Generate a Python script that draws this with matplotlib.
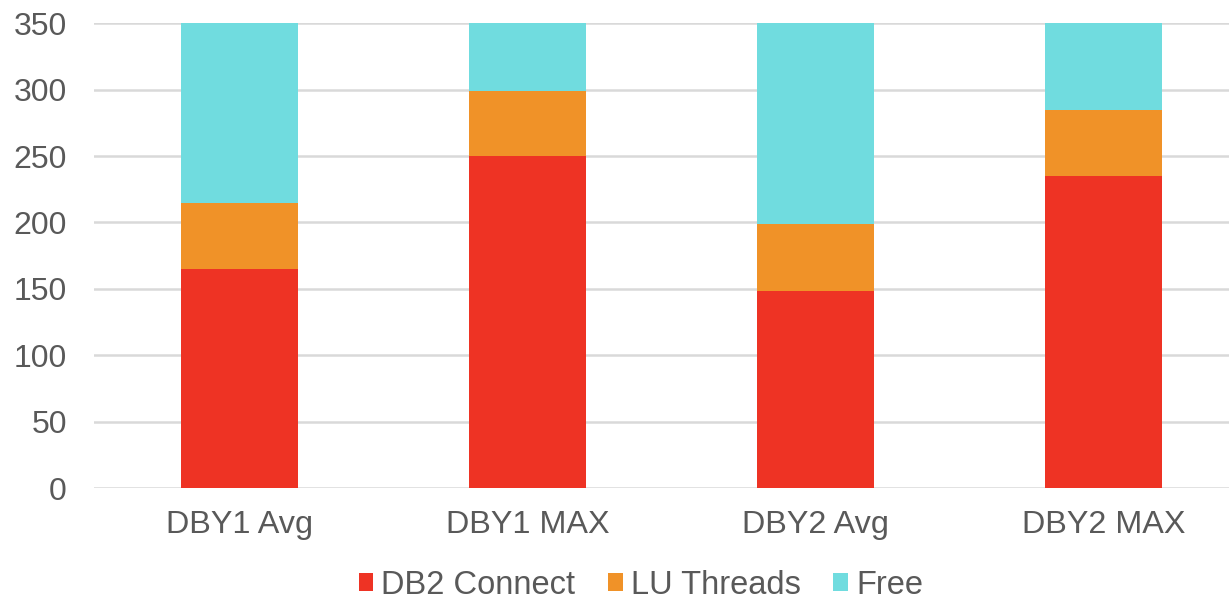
import numpy as np
import matplotlib.pyplot as plt

plt.rcParams['font.family'] = ['Liberation Sans', 'DejaVu Sans']

# Thread usage per system (stacked up to 350)
categories = ["DBY1 Avg", "DBY1 MAX", "DBY2 Avg", "DBY2 MAX"]
db2_connect = [165, 250, 148, 235]
lu_threads = [50, 49, 51, 50]
free = [135, 51, 151, 65]

series_names = ["DB2 Connect", "LU Threads", "Free"]
colors = ["#EE3324", "#F09228", "#70DCDF"]
text_color = "#595959"
grid_color = "#D9D9D9"

fig = plt.figure(figsize=(12.29, 5.99), dpi=100)
ax = fig.add_axes([94 / 1229, 111 / 599, 1 - 94 / 1229, (488 - 23.3) / 599])

x = np.arange(len(categories))
bar_w = 0.405
bottom = np.zeros(len(categories))
for vals, name, col in zip([db2_connect, lu_threads, free], series_names, colors):
    ax.bar(x, vals, bar_w, bottom=bottom, color=col, label=name, zorder=3)
    bottom += np.array(vals)

ax.set_ylim(0, 350)
ax.set_xlim(-0.505, 3.436)
ax.set_yticks(np.arange(0, 351, 50))
ax.set_xticks(x)
ax.set_xticklabels(categories)
ax.yaxis.grid(True, color=grid_color, linewidth=1.8, zorder=0)
ax.set_axisbelow(True)
for s in ax.spines.values():
    s.set_visible(False)
ax.tick_params(axis='y', length=0, pad=19.5, labelsize=23.0, labelcolor=text_color)
ax.tick_params(axis='x', length=0, pad=15.5, labelsize=23.3, labelcolor=text_color)

fig.legend(loc='center', bbox_to_anchor=(641 / 1229, 1 - 585 / 599), ncol=3,
           frameon=False, fontsize=23.5, labelcolor=text_color,
           handlelength=0.45, handleheight=0.45, handletextpad=0.25,
           columnspacing=1.0, borderaxespad=0, borderpad=0)

fig.savefig("out.png", dpi=100)
